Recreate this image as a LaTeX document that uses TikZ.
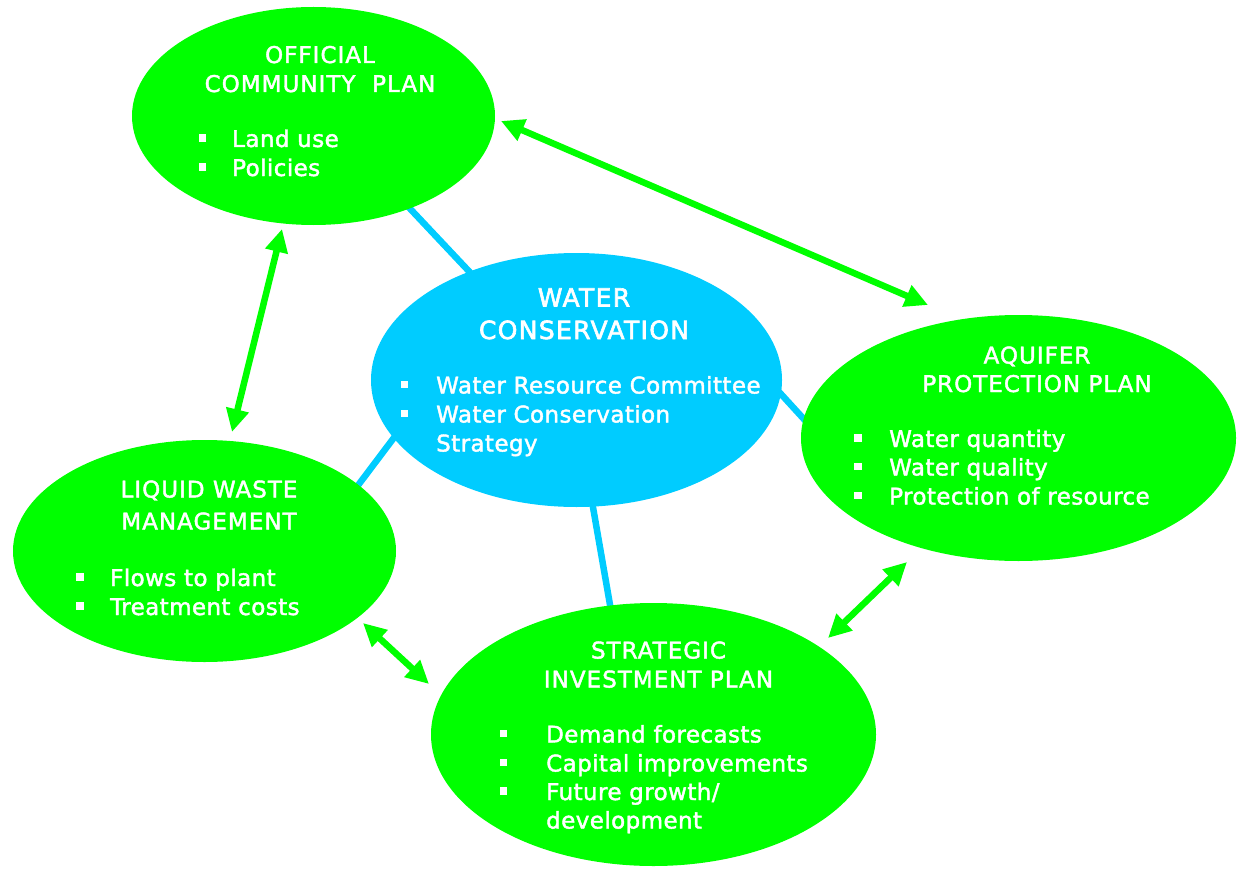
\documentclass[tikz,border=0pt]{standalone}
\usepackage{fontspec}
\setmainfont{DejaVu Sans}
\newfontfamily\bodyfont[LetterSpace=1.8,FakeBold=1.8]{DejaVu Sans}
\newfontfamily\headfont[LetterSpace=4.4,FakeBold=1.8]{DejaVu Sans}
\newfontfamily\bigheadfont[LetterSpace=5.4,FakeBold=2.4]{DejaVu Sans}
\usetikzlibrary{shapes.geometric,arrows.meta,backgrounds}
\definecolor{planGreen}{HTML}{00FF00}
\definecolor{waterBlue}{HTML}{00CCFF}
% square bullet hanging left of the item text
\newcommand\sqb[1]{\llap{\rule[5.5pt]{7.5pt}{7.5pt}\hspace{#1pt}}}
\tikzset{
  bubble/.style={ellipse, inner sep=0pt, outer sep=0pt},
  greenbubble/.style={bubble, fill=planGreen},
  bluebubble/.style={bubble, fill=waterBlue},
  head/.style={text=white, inner sep=0pt, anchor=base, font=\headfont\fontsize{23}{28}\selectfont},
  bighead/.style={head, font=\bigheadfont\fontsize{25}{30}\selectfont},
  item/.style={text=white, inner sep=0pt, anchor=base west, font=\bodyfont\fontsize{23}{28}\selectfont},
  link/.style={draw=waterBlue, line width=6.5pt},
  twoway/.style={draw=planGreen, line width=6.5pt,
    {Triangle[length=23pt,width=22pt]}-{Triangle[length=23pt,width=22pt]}}
}
\begin{document}
\begin{tikzpicture}[x=1pt,y=-1pt]
\useasboundingbox (0,0) rectangle (1238,869);

% ellipses
\node[greenbubble, minimum width=363pt, minimum height=218pt] (ocp) at (313.5,116) {};
\node[bluebubble, minimum width=411pt, minimum height=254pt] (wc) at (576.5,380) {};
\node[greenbubble, minimum width=435pt, minimum height=246pt] (aq) at (1018.5,438) {};
\node[greenbubble, minimum width=383pt, minimum height=222pt] (lw) at (204.5,551) {};
\node[greenbubble, minimum width=445pt, minimum height=263pt] (sip) at (653.5,734.5) {};

% blue links from the water conservation bubble, behind everything
\begin{scope}[on background layer]
  \draw[link] ([shift={(86.5,82)}]ocp.center) -- ([shift={(-96.5,-97)}]wc.center);
  \draw[link] ([shift={(148.5,-59)}]lw.center) -- ([shift={(-174.5,47)}]wc.center);
  \draw[link] ([shift={(13.5,110)}]wc.center) -- ([shift={(-40.5,-112.5)}]sip.center);
  \draw[link] ([shift={(193.5,2)}]wc.center) -- ([shift={(-206.5,-10)}]aq.center);
\end{scope}

% green two-way arrows between the plans
\draw[twoway] ([shift={(187.5,5)}]ocp.center) -- ([shift={(-90.5,-133)}]aq.center);
\draw[twoway] ([shift={(-31.5,113)}]ocp.center) -- ([shift={(27.5,-119)}]lw.center);
\draw[twoway] ([shift={(158.5,72)}]lw.center) -- ([shift={(-224.5,-50.5)}]sip.center);
\draw[twoway] ([shift={(174.5,-96.5)}]sip.center) -- ([shift={(-111.5,124)}]aq.center);

% Official Community Plan
\node[head] (ocpT1) at (320,63) {OFFICIAL};
\node[head] (ocpT2) at (320,92) {COMMUNITY~ PLAN};
\node[item] (ocpI1) at (232,147) {\sqb{26}Land use};
\node[item] (ocpI2) at (232,176) {\sqb{26}Policies};

% Water Conservation
\node[bighead] (wcT1) at (584,306.5) {WATER};
\node[bighead] (wcT2) at (584,339) {CONSERVATION};
\node[item] (wcI1) at (436,393.5) {\sqb{28}Water Resource Committee};
\node[item] (wcI2) at (436,422.5) {\sqb{28}Water Conservation};
\node[item] (wcI3) at (436,451.5) {Strategy};

% Aquifer Protection Plan
\node[head] (aqT1) at (1037,363.5) {AQUIFER};
\node[head] (aqT2) at (1037,392) {PROTECTION PLAN};
\node[item] (aqI1) at (889,447) {\sqb{27.5}Water quantity};
\node[item] (aqI2) at (889,475.5) {\sqb{27.5}Water quality};
\node[item] (aqI3) at (889,504.5) {\sqb{27.5}Protection of resource};

% Liquid Waste Management
\node[head] (lwT1) at (209,497.5) {LIQUID WASTE};
\node[head] (lwT2) at (209,529.5) {MANAGEMENT};
\node[item] (lwI1) at (110,586) {\sqb{26.5}Flows to plant};
\node[item] (lwI2) at (110,615) {\sqb{26.5}Treatment costs};

% Strategic Investment Plan
\node[head] (sipT1) at (658.5,658.5) {STRATEGIC};
\node[head] (sipT2) at (658.5,687.5) {INVESTMENT PLAN};
\node[item] (sipI1) at (546,742.5) {\sqb{39}Demand forecasts};
\node[item] (sipI2) at (546,771.5) {\sqb{39}Capital improvements};
\node[item] (sipI3) at (546,800) {\sqb{39}Future growth/};
\node[item] (sipI4) at (546,828.5) {development};
\end{tikzpicture}
\end{document}
